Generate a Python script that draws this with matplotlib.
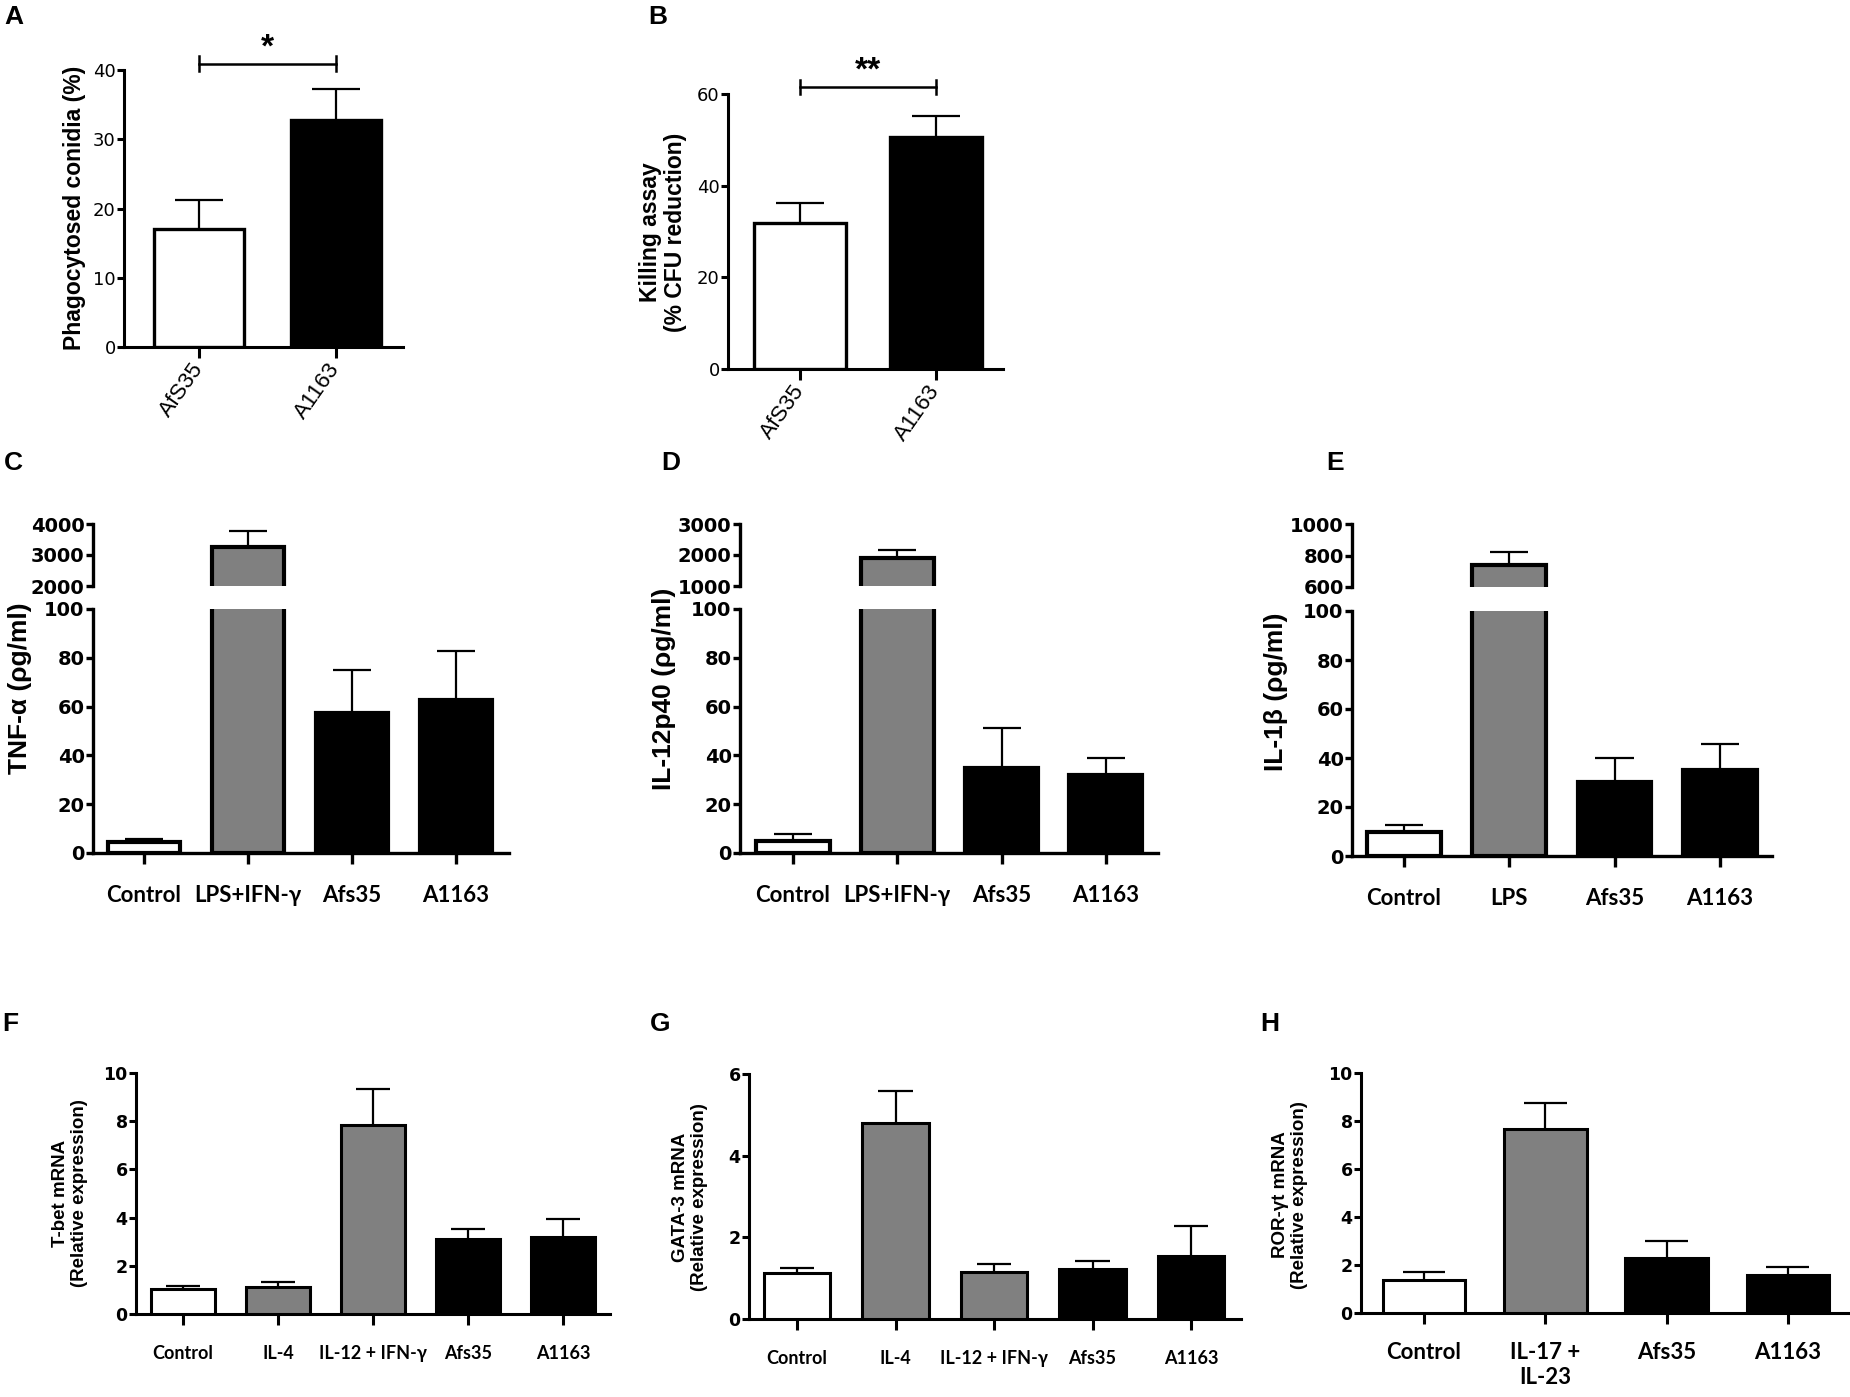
import numpy as np
import matplotlib
matplotlib.use('Agg')
import matplotlib.pyplot as plt

plt.rcParams['font.family'] = ['Liberation Sans', 'DejaVu Sans']

# ---- data (mean, upper SEM) ----
ab_groups = ['AfS35', 'A1163']
a_mean = [17.0, 32.8]
a_err = [4.2, 4.5]
b_mean = [31.9, 50.6]
b_err = [4.3, 4.6]

cyt_groups_ce = ['Control', 'LPS+IFN-γ', 'Afs35', 'A1163']
cyt_groups_e = ['Control', 'LPS', 'Afs35', 'A1163']
c_mean = [4.5, 3260, 57.4, 62.7]
c_err = [1.2, 510, 17.6, 20.1]
d_mean = [4.9, 1910, 34.8, 32.0]
d_err = [2.9, 240, 16.4, 6.9]
e_mean = [9.8, 740, 30.2, 35.1]
e_err = [2.9, 82, 9.8, 10.6]

fg_groups = ['Control', 'IL-4', 'IL-12 + IFN-γ', 'Afs35', 'A1163']
h_groups = ['Control', 'IL-17 +\nIL-23', 'Afs35', 'A1163']
f_mean = [1.04, 1.12, 7.84, 3.11, 3.20]
f_err = [0.12, 0.21, 1.50, 0.41, 0.74]
g_mean = [1.13, 4.80, 1.14, 1.23, 1.55]
g_err = [0.11, 0.79, 0.21, 0.20, 0.73]
h_mean = [1.38, 7.65, 2.28, 1.58]
h_err = [0.34, 1.12, 0.72, 0.35]

GRAY = '#808080'
cyt_colors = ['white', GRAY, 'black', 'black']
fg_colors = ['white', GRAY, GRAY, 'black', 'black']
h_colors = ['white', GRAY, 'black', 'black']

W, H = 1850, 1397
fig = plt.figure(figsize=(W / 100, H / 100), dpi=100)


def make_ax(x0, x1, yb, yt):
    return fig.add_axes([x0 / W, 1 - yb / H, (x1 - x0) / W, (yb - yt) / H])


def style(ax, lw=2.2, bottom=True):
    ax.spines['top'].set_visible(False)
    ax.spines['right'].set_visible(False)
    ax.spines['left'].set_linewidth(lw)
    ax.spines['bottom'].set_linewidth(lw)
    if not bottom:
        ax.spines['bottom'].set_visible(False)
    ax.tick_params(axis='y', direction='out', length=5, width=lw)
    ax.tick_params(axis='x', direction='out', length=8, width=lw)
    ax.patch.set_alpha(0)


def draw_bars(ax, means, errs, colors, width, lw, elw=1.6):
    x = np.arange(len(means))
    means = np.array(means, dtype=float)
    tops = means + np.array(errs)
    ax.vlines(x, means, tops, color='k', lw=elw, zorder=2)
    ax.hlines(tops, x - width * 0.26, x + width * 0.26, color='k', lw=elw, zorder=2)
    ax.bar(x, means, width=width, color=colors, edgecolor='k', linewidth=lw, zorder=3)
    return x


def simple_panel(box, c0, s, means, errs, colors, groups, ylim, yticks, width,
                 lw_bar, tick_font, cat_font, cat_pad, rot=None):
    x0, x1, yb, yt = box
    ax = make_ax(x0, x1, yb, yt)
    style(ax)
    x = draw_bars(ax, means, errs, colors, width, lw_bar)
    ax.set_xlim((x0 - c0) / s, (x1 - c0) / s)
    ax.set_ylim(*ylim)
    ax.set_yticks(yticks)
    ax.set_yticklabels([str(t) for t in yticks], **tick_font)
    ax.set_xticks(x)
    if rot:
        ax.set_xticklabels(groups, rotation=rot, ha='right', va='center',
                           rotation_mode='anchor', **cat_font)
    else:
        ax.set_xticklabels(groups, **cat_font)
    ax.tick_params(axis='x', pad=cat_pad)
    ax.tick_params(axis='y', pad=1)
    return ax


def broken_panel(x0, x1, yb, y100, ybrk, ytop, c0, s, means, errs, colors, groups,
                 upper_ticks):
    tick_font = dict(family='DejaVu Sans', fontweight='bold', fontsize=14)
    cat_font = dict(family=['Lato', 'DejaVu Sans'], fontweight='bold', fontsize=16)
    width = 0.7
    lo = make_ax(x0, x1, yb, y100)
    style(lo, lw=2.4)
    x = draw_bars(lo, means, errs, colors, width, 3.0)
    lo.set_xlim((x0 - c0) / s, (x1 - c0) / s)
    lo.set_ylim(0, 100)
    lo.set_yticks([0, 20, 40, 60, 80, 100])
    lo.set_yticklabels(['0', '20', '40', '60', '80', '100'], **tick_font)
    lo.set_xticks(x)
    lo.set_xticklabels(groups, **cat_font)
    lo.tick_params(axis='x', pad=15)
    lo.tick_params(axis='y', pad=1)

    up = make_ax(x0, x1, ybrk, ytop)
    style(up, lw=2.4, bottom=False)
    draw_bars(up, means, errs, colors, width, 3.0)
    up.set_xlim(lo.get_xlim())
    up.set_ylim(upper_ticks[0], upper_ticks[-1])
    up.set_yticks(upper_ticks)
    up.set_yticklabels([str(t) for t in upper_ticks], **tick_font)
    up.set_xticks([])
    up.tick_params(axis='y', pad=1)
    return lo, up


# ---- A ----
ab_tick = dict(family='DejaVu Sans', fontsize=13)
ab_cat = dict(family='Liberation Sans', fontsize=16)
axA = simple_panel((124, 403, 347, 70), 199, 137, a_mean, a_err, ['white', 'black'],
                   ab_groups, (0, 40), [0, 10, 20, 30, 40], 0.66, 2.4,
                   ab_tick, ab_cat, 5, rot=55)
axA.plot([0, 1], [40.9, 40.9], color='k', lw=1.8, clip_on=False)
axA.plot([0, 0], [39.8, 42.0], color='k', lw=1.8, clip_on=False)
axA.plot([1, 1], [39.8, 42.0], color='k', lw=1.8, clip_on=False)
axA.text(0.5, 41.9, '*', ha='center', va='baseline', fontsize=24, fontweight='bold')

# ---- B ----
axB = simple_panel((728, 1003, 369, 94), 800, 136, b_mean, b_err, ['white', 'black'],
                   ab_groups, (0, 60), [0, 20, 40, 60], 0.67, 2.4,
                   ab_tick, ab_cat, 5, rot=55)
axB.plot([0, 1], [61.5, 61.5], color='k', lw=1.8, clip_on=False)
axB.plot([0, 0], [59.9, 63.1], color='k', lw=1.8, clip_on=False)
axB.plot([1, 1], [59.9, 63.1], color='k', lw=1.8, clip_on=False)
axB.text(0.5, 63.1, '**', ha='center', va='baseline', fontsize=24, fontweight='bold')

# ---- C, D, E (broken axes) ----
broken_panel(93, 509, 853, 609, 586, 524, 144, 104, c_mean, c_err, cyt_colors,
             cyt_groups_ce, [2000, 3000, 4000])
broken_panel(740, 1158, 853, 609, 586, 524, 793, 104.3, d_mean, d_err, cyt_colors,
             cyt_groups_ce, [1000, 2000, 3000])
broken_panel(1352, 1772, 856, 611, 587, 524, 1404, 105.3, e_mean, e_err, cyt_colors,
             cyt_groups_e, [600, 800, 1000])

# ---- F, G, H ----
fgh_tick = dict(family='DejaVu Sans', fontweight='bold', fontsize=12.5)
fgh_cat = dict(family=['Lato', 'DejaVu Sans'], fontweight='bold', fontsize=13)
simple_panel((136, 610, 1314, 1073), 183, 95, f_mean, f_err, fg_colors, fg_groups,
             (0, 10), [0, 2, 4, 6, 8, 10], 0.68, 2.2, fgh_tick, fgh_cat, 14)
simple_panel((749, 1241, 1319, 1074), 797, 98.5, g_mean, g_err, fg_colors, fg_groups,
             (0, 6), [0, 2, 4, 6], 0.68, 2.2, fgh_tick, fgh_cat, 14)
simple_panel((1361, 1848, 1313, 1073), 1424, 121.3, h_mean, h_err, h_colors, h_groups,
             (0, 10), [0, 2, 4, 6, 8, 10], 0.68, 2.2, fgh_tick,
             dict(fgh_cat, fontsize=16), 13)

# ---- y labels ----
def ylab(x, y, s, size):
    fig.text(x / W, 1 - y / H, s, rotation=90, ha='center', va='center',
             fontsize=size, fontweight='bold', linespacing=1.1)

ylab(75, 208, 'Phagocytosed conidia (%)', 16.5)
ylab(663, 232, 'Killing assay\n(% CFU reduction)', 16.5)
ylab(20, 688, 'TNF-α (ρg/ml)', 19)
ylab(664, 689, 'IL-12p40 (ρg/ml)', 19)
ylab(1276, 692, 'IL-1β (ρg/ml)', 19)
ylab(70, 1193, 'T-bet mRNA\n(Relative expression)', 13.5)
ylab(690, 1197, 'GATA-3 mRNA\n(Relative expression)', 13.5)
ylab(1290, 1195, 'ROR-γt mRNA\n(Relative expression)', 13.5)

# ---- panel letters ----
for lx, ly, s in [(4, 5, 'A'), (648, 5, 'B'), (4, 451, 'C'), (661, 451, 'D'),
                  (1326, 451, 'E'), (2, 1012, 'F'), (650, 1012, 'G'), (1260, 1012, 'H')]:
    fig.text(lx / W, 1 - ly / H, s, ha='left', va='top', fontsize=19, fontweight='bold')

fig.savefig('out.png', dpi=100)
